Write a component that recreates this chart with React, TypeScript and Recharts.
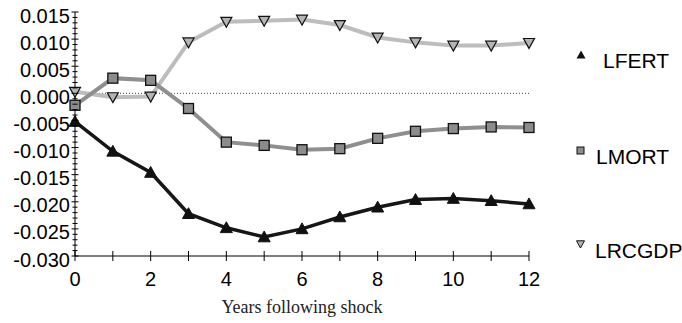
import React from 'react'
import { LineChart, Line, XAxis, YAxis, ReferenceLine } from 'recharts'

// Impulse responses
const years = [0, 1, 2, 3, 4, 5, 6, 7, 8, 9, 10, 11, 12]
const lfert = [-0.0052, -0.0107, -0.0146, -0.0222, -0.0248, -0.0265, -0.025, -0.0228, -0.021, -0.0196, -0.0194, -0.0198, -0.0204]
const lmort = [-0.0022, 0.0028, 0.0024, -0.0028, -0.009, -0.0096, -0.0104, -0.0102, -0.0083, -0.007, -0.0065, -0.0062, -0.0063]
const lrcgdp = [0.0003, -0.0007, -0.0006, 0.0094, 0.0132, 0.0134, 0.0136, 0.0126, 0.0103, 0.0094, 0.0088, 0.0088, 0.0093]

const yMajor = [-0.03, -0.025, -0.02, -0.015, -0.01, -0.005, 0, 0.005, 0.01, 0.015]
const xLabels = [0, 2, 4, 6, 8, 10, 12]
const seriesNames = ['LFERT', 'LMORT', 'LRCGDP']

const yTicks: number[] = []
for (let i = -30; i <= 15; i++) yTicks.push(i / 1000)

const data = years.map((yr, i) => ({ yr, lfert: lfert[i], lmort: lmort[i], lrcgdp: lrcgdp[i] }))

const font = 'Arial, "Liberation Sans", sans-serif'

const isMajor = (v: number) => yMajor.some(m => Math.abs(m - v) < 1e-9)

const YTick = (props: any) => {
  const { x, y, payload } = props
  const major = isMajor(payload.value)
  const len = major ? 3.5 : 2.5
  return (
    <g>
      <line x1={x - len} x2={x + len} y1={y} y2={y} stroke="#000" strokeWidth={1} />
      {major && (
        <text x={x - 5} y={y + 10.5} textAnchor="end" fontSize={20} fontFamily={font} fill="#000">
          {payload.value.toFixed(3)}
        </text>
      )}
    </g>
  )
}

const XTick = (props: any) => {
  const { x, y, payload } = props
  return (
    <g>
      <line x1={x} x2={x} y1={y - 5} y2={y + 5} stroke="#000" strokeWidth={1} />
      {xLabels.includes(payload.value) && (
        <text x={x} y={y + 29.5} textAnchor="middle" fontSize={20} fontFamily={font} fill="#000">
          {payload.value}
        </text>
      )}
    </g>
  )
}

const upTri = (cx: number, cy: number, s: number) =>
  `M${cx},${cy - s} L${cx + s},${cy + s * 0.8} L${cx - s},${cy + s * 0.8} Z`
const downTri = (cx: number, cy: number, s: number) =>
  `M${cx},${cy + s} L${cx + s},${cy - s * 0.8} L${cx - s},${cy - s * 0.8} Z`

const FertDot = (props: any) => (
  <path key={props.key ?? props.index} d={upTri(props.cx, props.cy, 6)} fill="#111" stroke="#111" strokeWidth={1} />
)
const MortDot = (props: any) => (
  <rect key={props.key ?? props.index} x={props.cx - 5} y={props.cy - 5} width={10} height={10} fill="#8c8c8c" stroke="#111" strokeWidth={1.3} />
)
const GdpDot = (props: any) => (
  <path key={props.key ?? props.index} d={downTri(props.cx, props.cy, 5.5)} fill="#b4b4b4" stroke="#111" strokeWidth={1.2} />
)

export default function App() {
  return (
    <div style={{ position: 'relative', width: 682, height: 323 }}>
      <style>{`body{margin:0}`}</style>
      <LineChart width={682} height={323} data={data} margin={{ top: 12, right: 153, bottom: 0, left: 0 }}>
        <XAxis
          dataKey="yr"
          type="number"
          domain={[0, 12]}
          ticks={years}
          interval={0}
          tickSize={0}
          tickMargin={0}
          tick={<XTick />}
          height={67}
          stroke="#000"
          label={{ value: 'Years following shock', position: 'insideBottom', offset: 10, fontSize: 18, fontFamily: '"Liberation Serif", "Times New Roman", serif', fill: '#222' }}
        />
        <YAxis
          type="number"
          domain={[-0.03, 0.015]}
          ticks={yTicks}
          interval={0}
          tickSize={0}
          tickMargin={0}
          tick={<YTick />}
          width={75}
          stroke="#000"
        />
        <ReferenceLine y={0} stroke="#444" strokeDasharray="1 2" strokeWidth={1} />
        <Line dataKey="lrcgdp" stroke="#bdbdbd" strokeWidth={4} dot={GdpDot} isAnimationActive={false} />
        <Line dataKey="lmort" stroke="#8f8f8f" strokeWidth={4} dot={MortDot} isAnimationActive={false} />
        <Line dataKey="lfert" stroke="#161616" strokeWidth={3.5} dot={FertDot} isAnimationActive={false} />
      </LineChart>
      <svg width={682} height={323} style={{ position: 'absolute', left: 0, top: 0, pointerEvents: 'none' }}>
        <path d={upTri(581, 55, 4.5)} fill="#111" />
        <text x={603} y={68} fontSize={21} fontFamily={font} fill="#000">{seriesNames[0]}</text>
        <rect x={577} y={147} width={7} height={7} fill="#8c8c8c" stroke="#111" strokeWidth={1} />
        <text x={596} y={164} fontSize={21} fontFamily={font} fill="#000">{seriesNames[1]}</text>
        <path d={downTri(580.5, 244, 4)} fill="#b4b4b4" stroke="#111" strokeWidth={1} />
        <text x={595} y={258} fontSize={21} fontFamily={font} fill="#000">{seriesNames[2]}</text>
      </svg>
    </div>
  )
}
